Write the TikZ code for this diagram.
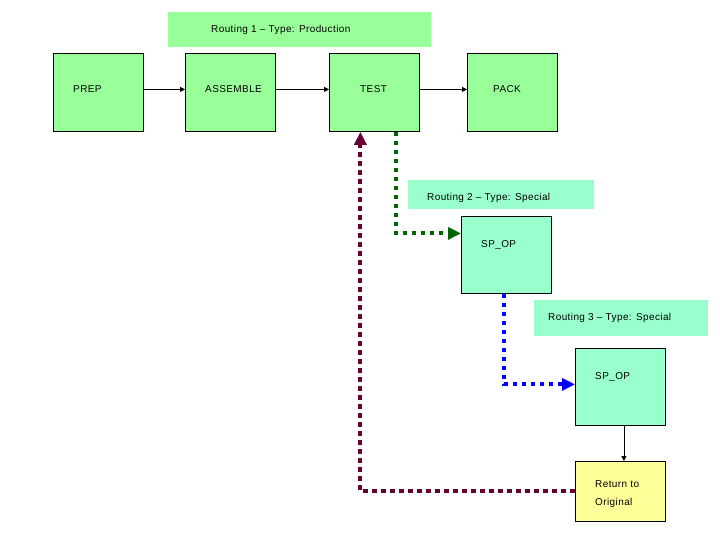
\documentclass[tikz,border=0pt]{standalone}
\usepackage{fontspec}
\setmainfont{Liberation Sans}
\usetikzlibrary{arrows.meta,calc}
\definecolor{opgreen}{HTML}{99FF99}
\definecolor{spgreen}{HTML}{99FFCC}
\definecolor{retyellow}{HTML}{FFFF99}
\definecolor{pathgreen}{HTML}{006600}
\definecolor{pathblue}{HTML}{0000FF}
\definecolor{pathmaroon}{HTML}{660033}
\tikzset{
  opbox/.style={draw=black, line width=0.8pt, inner sep=0pt, anchor=north west, minimum width=90pt},
  tagbox/.style={inner sep=0pt, anchor=north west},
  txt/.style={inner sep=0pt, anchor=west, align=left},
  flow/.style={line width=0.8pt, -{Triangle[length=5pt,width=5pt]}},
  hop/.style={line width=4pt, dash pattern=on 4pt off 5pt, -{Triangle[length=13pt,width=12pt]}}
}
\begin{document}
\begin{tikzpicture}[x=1pt,y=-1pt,font=\fontsize{10}{12}\selectfont\addfontfeature{LetterSpace=4}]
      \useasboundingbox (0,0) rectangle (720,540);
      \node [tagbox, fill=opgreen, minimum width=263pt, minimum height=35pt] (r1) at (168,12) {};
      \node [tagbox, fill=spgreen, minimum width=186pt, minimum height=29pt] (r2) at (408,180) {};
      \node [tagbox, fill=spgreen, minimum width=174pt, minimum height=36pt] (r3) at (534,300) {};
      \node [opbox, fill=opgreen, minimum height=78pt] (prep) at (53,53) {};
      \node [opbox, fill=opgreen, minimum height=78pt] (asm) at (185,53) {};
      \node [opbox, fill=opgreen, minimum height=78pt] (test) at (329,53) {};
      \node [opbox, fill=opgreen, minimum height=78pt] (pack) at (467,53) {};
      \node [opbox, fill=spgreen, minimum height=77pt] (sp1) at (461,216) {};
      \node [opbox, fill=spgreen, minimum height=77pt] (sp2) at (575,348) {};
      \node [opbox, fill=retyellow, minimum height=60pt] (ret) at (575,461) {};
      \node [txt] (r1-t) at (211,29.5) {Routing 1 – Type: Production};
      \node [txt] (r2-t) at (427,197.5) {Routing 2 – Type: Special};
      \node [txt] (r3-t) at (548,317.5) {Routing 3 – Type: Special};
      \node [txt] (prep-t) at (73,89.5) {PREP};
      \node [txt] (asm-t) at (205,89.5) {ASSEMBLE};
      \node [txt] (test-t) at (360,89.5) {TEST};
      \node [txt] (pack-t) at (493,89.5) {PACK};
      \node [txt] (sp1-t) at (481,245.5) {SP\_OP};
      \node [txt] (sp2-t) at (595,377.5) {SP\_OP};
      \node [txt, font=\fontsize{10}{18}\selectfont\addfontfeature{LetterSpace=4}] (ret-t) at (595,494.5) {Return to\\Original};
      \draw [flow] ([yshift=3pt]prep.east) -- ([yshift=3pt]asm.west);
      \draw [flow] ([yshift=3pt]asm.east) -- ([yshift=3pt]test.west);
      \draw [flow] ([yshift=3pt]test.east) -- ([yshift=3pt]pack.west);
      \draw [flow] ([xshift=3.5pt]sp2.south) -- ([xshift=3.5pt]ret.north);
      \draw [hop, pathgreen] ([xshift=22pt]test.south) |- ([yshift=21.5pt]sp1.west);
      \draw [hop, pathblue] ([xshift=-2pt]sp1.south) |- ([yshift=2.5pt]sp2.west);
      \draw [hop, pathmaroon, dash pattern=on 5pt off 4pt] (ret.west) -| ([xshift=-14pt]test.south);
    \end{tikzpicture}
\end{document}
